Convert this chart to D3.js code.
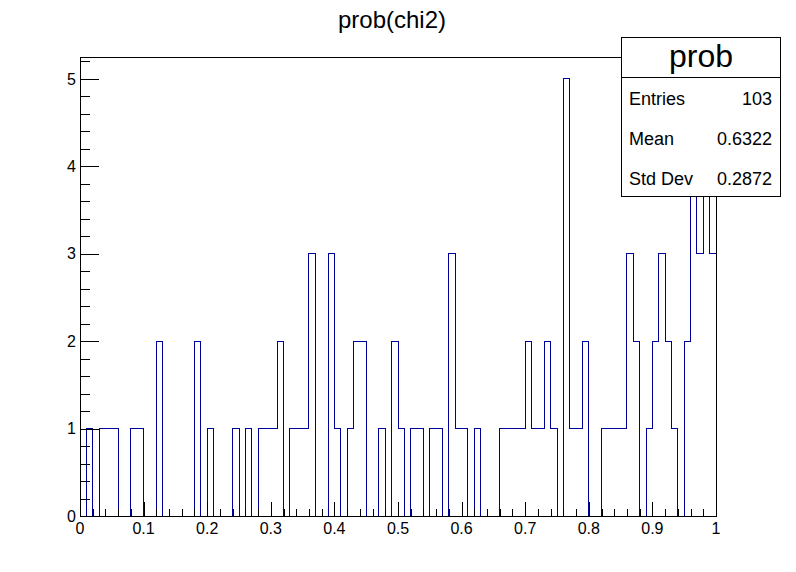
<!DOCTYPE html>
<html>
<head>
<meta charset="utf-8">
<script src="https://cdn.jsdelivr.net/npm/d3@7"></script>
<style>
  html, body { margin: 0; padding: 0; background: #fff; }
  svg { display: block; font-family: "Liberation Sans", Arial, Helvetica, sans-serif; }
</style>
</head>
<body>
<svg id="chart" width="796" height="572"></svg>
<script>
// ---- data (100 bins on [0,1]) ----
const title = "prob(chi2)";
const histName = "prob";
const binLow = 0, binHigh = 1;
const binCounts = [
  0,1,0,1,1,1,0,0,1,1,
  0,0,2,0,0,0,0,0,2,0,
  1,0,0,0,1,0,1,0,1,1,
  1,2,0,1,1,1,3,0,0,3,
  1,0,1,2,2,0,0,1,0,2,
  1,0,1,1,0,1,1,0,3,1,
  1,0,1,0,0,0,1,1,1,1,
  2,1,1,2,1,0,5,1,1,2,
  0,0,1,1,1,1,3,2,0,1,
  2,3,2,1,0,2,5,3,5,3
];
const xTickValues = [0,0.1,0.2,0.3,0.4,0.5,0.6,0.7,0.8,0.9,1];
const xTickLabels = ["0","0.1","0.2","0.3","0.4","0.5","0.6","0.7","0.8","0.9","1"];
const yTickValues = [0,1,2,3,4,5];
const yTickLabels = ["0","1","2","3","4","5"];
const statLabels = ["Entries","Mean","Std Dev"];
const statValues = ["103","0.6322","0.2872"];

// ---- layout ----
const L = 80, R = 716, T = 57, B = 516;
const svg = d3.select("#chart");
const nb = binCounts.length;
const yMax = d3.max(binCounts) * 1.05;

const x = d3.scaleLinear().domain([binLow, binHigh]).range([L, R]);
const y = d3.scaleLinear().domain([0, yMax]).range([B, T]);

// ---- histogram outline ----
const bw = (binHigh - binLow) / nb;
let p = d3.path();
p.moveTo(x(binLow), y(0));
binCounts.forEach((v, i) => {
  p.lineTo(x(binLow + i * bw), y(v));
  p.lineTo(x(binLow + (i + 1) * bw), y(v));
});
p.lineTo(x(binHigh), y(0));
svg.append("path")
  .attr("d", p.toString())
  .attr("fill", "none")
  .attr("stroke", "#000099")
  .attr("stroke-width", 1)
  .attr("shape-rendering", "crispEdges");

// ---- frame ----
svg.append("rect")
  .attr("x", L).attr("y", T).attr("width", R - L).attr("height", B - T)
  .attr("fill", "none").attr("stroke", "#000").attr("shape-rendering", "crispEdges");

// ---- x axis ticks ----
const xMinor = d3.range(0, 51).map(i => binLow + i * 0.02);
const gx = svg.append("g").attr("shape-rendering", "crispEdges");
gx.selectAll("line.minor").data(xMinor).join("line")
  .attr("x1", d => Math.round(x(d)) + 0.5).attr("x2", d => Math.round(x(d)) + 0.5)
  .attr("y1", B).attr("y2", d => {
    const isMajor = Math.abs(d * 10 - Math.round(d * 10)) < 1e-6;
    return isMajor ? B - 14 : B - 7;
  })
  .attr("stroke", "#000");
gx.selectAll("text").data(xTickValues).join("text")
  .attr("x", d => x(d)).attr("y", 534)
  .attr("text-anchor", "middle")
  .attr("font-size", 16)
  .text((d, i) => xTickLabels[i]);

// ---- y axis ticks ----
const yMinor = d3.range(0, 27).map(i => i * 0.2).filter(v => v <= yMax + 1e-9);
const gy = svg.append("g").attr("shape-rendering", "crispEdges");
gy.selectAll("line").data(yMinor).join("line")
  .attr("y1", d => Math.round(y(d)) + 0.5).attr("y2", d => Math.round(y(d)) + 0.5)
  .attr("x1", L).attr("x2", d => {
    const isMajor = Math.abs(d - Math.round(d)) < 1e-6;
    return isMajor ? L + 19 : L + 10;
  })
  .attr("stroke", "#000");
gy.selectAll("text").data(yTickValues).join("text")
  .attr("x", 76).attr("y", d => y(d))
  .attr("dy", "0.36em")
  .attr("text-anchor", "end")
  .attr("font-size", 16)
  .text((d, i) => yTickLabels[i]);

// ---- title ----
svg.append("text")
  .attr("x", 392).attr("y", 28)
  .attr("text-anchor", "middle")
  .attr("font-size", 24)
  .text(title);

// ---- stats box ----
const sb = { x: 621.5, y: 37.5, w: 159, h: 159 };
const gs = svg.append("g");
gs.append("rect")
  .attr("x", sb.x).attr("y", sb.y).attr("width", sb.w).attr("height", sb.h)
  .attr("fill", "#fff").attr("stroke", "#000").attr("shape-rendering", "crispEdges");
gs.append("line")
  .attr("x1", sb.x).attr("x2", sb.x + sb.w)
  .attr("y1", 77.5).attr("y2", 77.5)
  .attr("stroke", "#000").attr("shape-rendering", "crispEdges");
gs.append("text")
  .attr("x", sb.x + sb.w / 2).attr("y", 67)
  .attr("text-anchor", "middle")
  .attr("font-size", 32)
  .text(histName);
statLabels.forEach((lab, i) => {
  const by = 105 + i * 40;
  gs.append("text").attr("x", 629).attr("y", by)
    .attr("font-size", 18).text(lab);
  gs.append("text").attr("x", 772).attr("y", by)
    .attr("text-anchor", "end").attr("font-size", 18).text(statValues[i]);
});
</script>
</body>
</html>
